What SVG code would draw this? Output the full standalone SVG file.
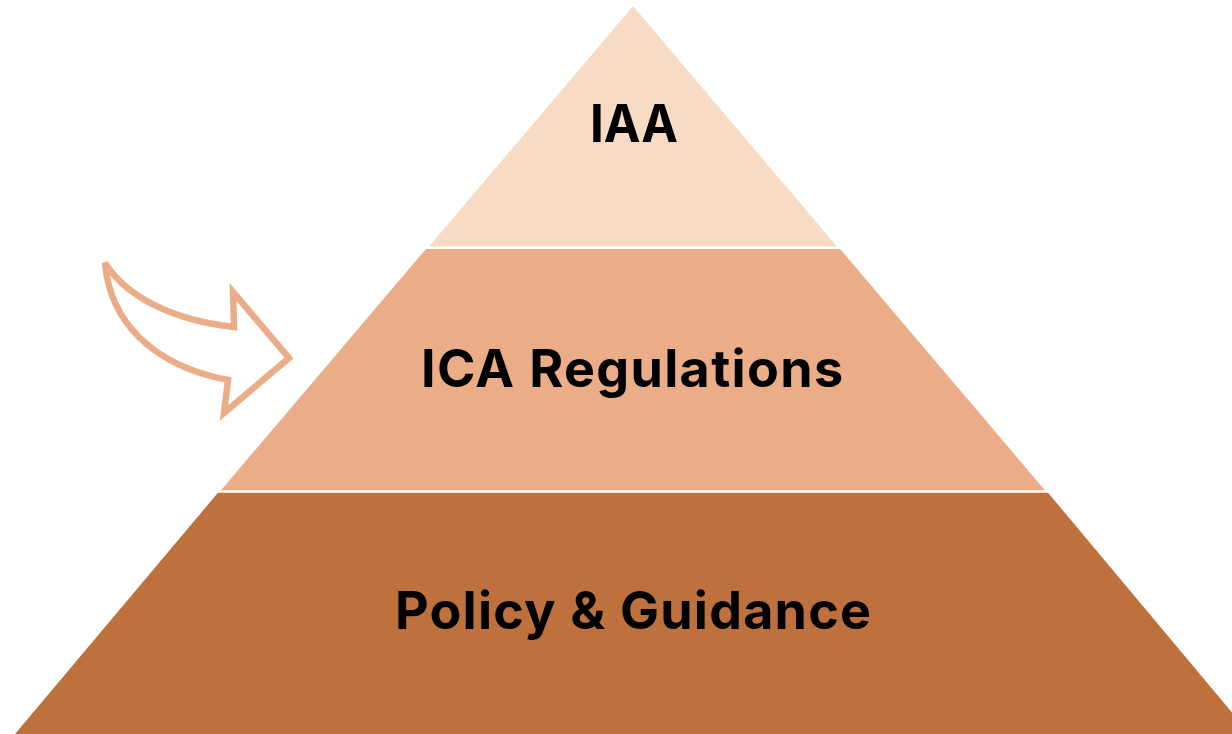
<svg xmlns="http://www.w3.org/2000/svg" width="1232" height="734" viewBox="0 0 1232 734">
  <style>
    .label { font-family: Inter, "Open Sans", "Liberation Sans", sans-serif; font-weight: 700; font-size: 52px; fill: #000; text-anchor: middle; }
    .gap { stroke: #fff; stroke-width: 2.5; }
  </style>
  <rect width="1232" height="734" fill="#fff"/>
  <g id="tier-top">
    <polygon points="633,6 838,247.7 428,247.7" fill="#F7DBC4"/>
    <text class="label" x="634" y="142" textLength="88" lengthAdjust="spacingAndGlyphs">IAA</text>
  </g>
  <g id="tier-middle">
    <polygon points="427,247.7 839,247.7 1046,491.5 220,491.5" fill="#EBAD88"/>
    <text class="label" x="632" y="387" textLength="422" lengthAdjust="spacing">ICA Regulations</text>
  </g>
  <g id="tier-bottom">
    <polygon points="219,491.5 1047,491.5 1250,734 15,734" fill="#BE713C"/>
    <text class="label" x="633" y="629" textLength="476" lengthAdjust="spacing">Policy &amp; Guidance</text>
  </g>
  <g id="connectors">
    <line class="gap" x1="400" y1="247.7" x2="860" y2="247.7"/>
    <line class="gap" x1="200" y1="491.5" x2="1070" y2="491.5"/>
    <path d="M105,263 C125,295 170,320 234,327 L233,292 L289,358 L224,413 L228,380 C150,365 110,320 105,263 Z" fill="none" stroke="#EBAD88" stroke-width="6.5" stroke-linejoin="miter"/>
  </g>
</svg>
